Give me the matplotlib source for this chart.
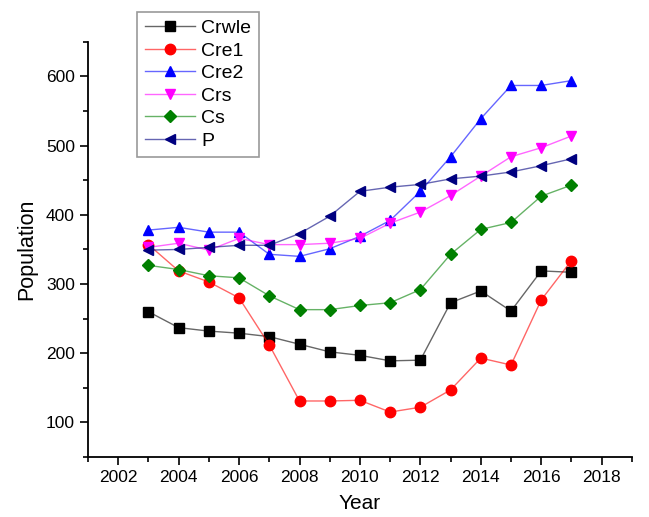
import matplotlib
matplotlib.use("Agg")
import matplotlib.pyplot as plt
from matplotlib.ticker import MultipleLocator
from matplotlib.colors import to_rgba

plt.rcParams['font.family'] = ['Liberation Sans', 'DejaVu Sans']

years = list(range(2003, 2018))

crwle = [260, 237, 232, 229, 224, 213, 202, 197, 189, 190, 273, 290, 261, 319, 317]
cre1 = [357, 319, 303, 280, 212, 131, 131, 132, 115, 122, 147, 193, 183, 277, 334]
cre2 = [378, 382, 375, 375, 343, 340, 351, 369, 392, 434, 484, 539, 587, 587, 594]
crs = [353, 359, 349, 366, 357, 357, 359, 366, 388, 404, 428, 456, 484, 497, 514]
cs = [327, 321, 312, 309, 283, 263, 263, 269, 273, 292, 343, 379, 389, 427, 443]
p = [349, 350, 353, 356, 356, 373, 398, 434, 440, 444, 452, 456, 462, 471, 481]

series = [
    ("Crwle", crwle, "black", "s"),
    ("Cre1", cre1, "red", "o"),
    ("Cre2", cre2, "blue", "^"),
    ("Crs", crs, "magenta", "v"),
    ("Cs", cs, "green", "D"),
    ("P", p, "navy", "<"),
]

fig = plt.figure(figsize=(6.49, 5.17), dpi=100)
ax = fig.add_axes([0.1356, 0.116, 0.838, 0.803])

handles = []
for name, vals, col, mk in series:
    ms = 6.5 if mk == "D" else 7.5
    # connecting lines are drawn paler than the markers
    line_col = to_rgba(col, 0.6)
    h, = ax.plot(years, vals, color=line_col, marker=mk, markersize=ms, lw=1.0,
                 markerfacecolor=col, markeredgecolor=col, label=name)
    handles.append(h)

ax.set_xlim(2001, 2019)
ax.set_ylim(50, 650)
ax.xaxis.set_major_locator(MultipleLocator(2))
ax.xaxis.set_minor_locator(MultipleLocator(1))
ax.yaxis.set_major_locator(MultipleLocator(100))
ax.yaxis.set_minor_locator(MultipleLocator(50))
ax.spines['top'].set_visible(False)
ax.spines['right'].set_visible(False)
ax.spines['left'].set_linewidth(1.3)
ax.spines['bottom'].set_linewidth(1.3)
ax.tick_params(which='major', direction='out', length=6, width=1.2, labelsize=12.5)
ax.tick_params(which='minor', direction='out', length=3.5, width=1.2)

ax.set_xlabel("Year", fontsize=15, labelpad=6)
ax.set_ylabel("Population", fontsize=15.5, labelpad=6)

leg = fig.legend(handles=handles, loc='upper left',
                 bbox_to_anchor=(0.211, 0.977), fontsize=14,
                 frameon=True, fancybox=False, edgecolor='gray',
                 handlelength=2.6, handletextpad=0.3, borderpad=0.4,
                 labelspacing=0.25, borderaxespad=0)
leg.get_frame().set_linewidth(1.2)

fig.savefig("out.png", dpi=100)
